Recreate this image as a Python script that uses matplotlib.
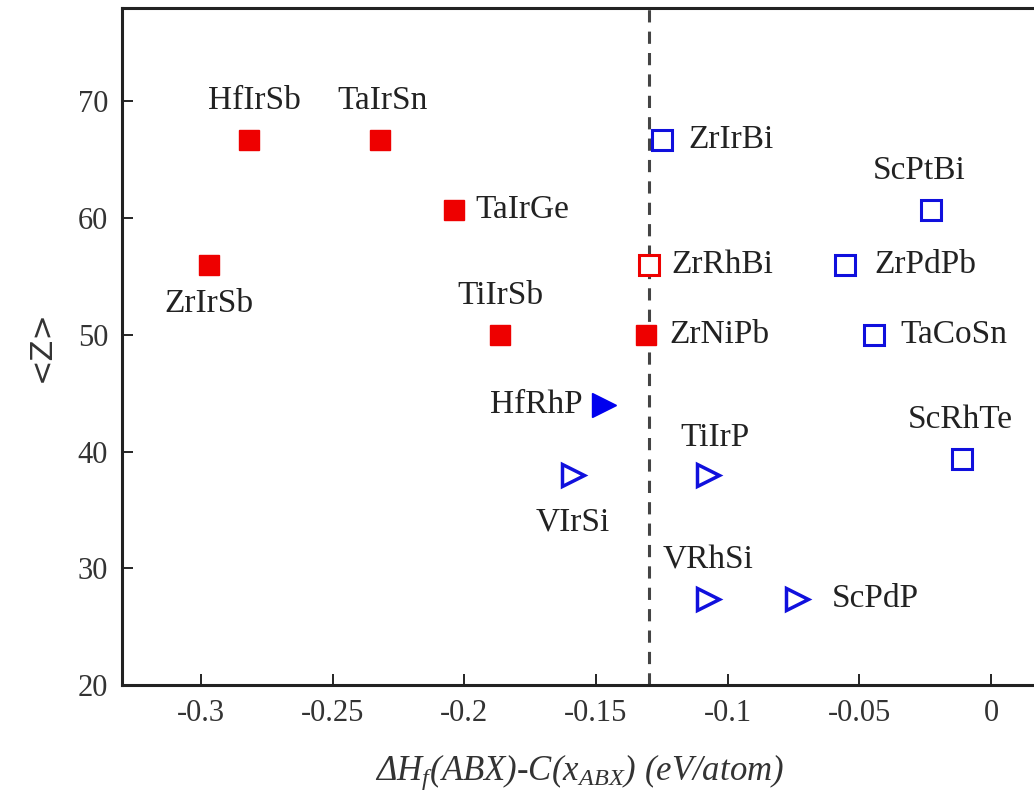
import matplotlib
matplotlib.use("Agg")
import matplotlib.pyplot as plt

plt.rcParams['font.family'] = ['Liberation Serif', 'DejaVu Serif']
plt.rcParams['mathtext.fontset'] = 'custom'
plt.rcParams['mathtext.rm'] = 'Liberation Serif'
plt.rcParams['mathtext.it'] = 'Liberation Serif:italic'

# red filled squares
red_names = ['HfIrSb', 'TaIrSn', 'TaIrGe', 'ZrIrSb', 'TiIrSb', 'ZrNiPb']
red_x = [-0.2817, -0.232, -0.2038, -0.297, -0.1863, -0.131]
red_z = [66.7, 66.7, 60.7, 56.0, 50.0, 50.0]

# red open square
redo_names = ['ZrRhBi']
redo_x = [-0.130]
redo_z = [56.0]

# blue open squares
bsq_names = ['ZrIrBi', 'ScPtBi', 'ZrPdPb', 'TaCoSn', 'ScRhTe']
bsq_x = [-0.1248, -0.0229, -0.0553, -0.0443, -0.011]
bsq_z = [66.7, 60.7, 56.0, 50.0, 39.4]

# blue filled triangle
btf_names = ['HfRhP']
btf_x = [-0.147]
btf_z = [44.0]

# blue open triangles
bto_names = ['VIrSi', 'TiIrP', 'VRhSi', 'ScPdP']
bto_x = [-0.1588, -0.1073, -0.1073, -0.0737]
bto_z = [38.0, 38.0, 27.4, 27.4]

cutoff = -0.13

# label offset from marker (points) and alignment
label_pos = {
    'HfIrSb': ((4, 28), 'center'), 'TaIrSn': ((2, 28), 'center'),
    'TaIrGe': ((15, 0), 'left'), 'ZrIrSb': ((0, -28), 'center'),
    'TiIrSb': ((0, 28), 'center'), 'ZrNiPb': ((17, 0), 'left'),
    'ZrRhBi': ((16, 0), 'left'), 'ZrIrBi': ((19, 0), 'left'),
    'ScPtBi': ((-8, 28), 'center'), 'ZrPdPb': ((21, 0), 'left'),
    'TaCoSn': ((19, 0), 'left'), 'ScRhTe': ((-1, 28), 'center'),
    'HfRhP': ((-15, 0), 'right'), 'VIrSi': ((0, -34), 'center'),
    'TiIrP': ((5, 27), 'center'), 'VRhSi': ((0, 28), 'center'),
    'ScPdP': ((25, 0), 'left'),
}

fig = plt.figure(figsize=(10.34, 8.05), dpi=100)
ax = fig.add_axes([0.118, 0.149, 0.885, 0.841])

ax.axvline(cutoff, color='#444444', lw=2.2, ls=(0, (4, 3)), zorder=1)

ax.plot(red_x, red_z, 's', color='#ee0000', ms=15, mec='#ee0000', ls='none', zorder=3)
ax.plot(redo_x, redo_z, 's', mfc='white', mec='#ee0000', mew=2.2, ms=14, ls='none', zorder=3)
ax.plot(bsq_x, bsq_z, 's', mfc='none', mec='#1010dd', mew=2.2, ms=14, ls='none', zorder=3)
ax.plot(btf_x, btf_z, '>', color='#0000ee', ms=17, ls='none', zorder=3)
ax.plot(bto_x, bto_z, '>', mfc='none', mec='#1010dd', mew=2.5, ms=16, ls='none', zorder=3)

all_names = red_names + redo_names + bsq_names + btf_names + bto_names
all_x = red_x + redo_x + bsq_x + btf_x + bto_x
all_z = red_z + redo_z + bsq_z + btf_z + bto_z

for name, x, z in zip(all_names, all_x, all_z):
    off, ha = label_pos[name]
    ax.annotate(name, (x, z), xytext=off, textcoords='offset points',
                ha=ha, va='center', fontsize=24, color='#222222')

ax.set_xlim(-0.33, 0.0175)
ax.set_ylim(20, 78)
ax.set_xticks([-0.3, -0.25, -0.2, -0.15, -0.1, -0.05, 0])
ax.set_xticklabels(['-0.3', '-0.25', '-0.2', '-0.15', '-0.1', '-0.05', '0'])
ax.set_yticks([20, 30, 40, 50, 60, 70])

ax.tick_params(direction='in', length=8, width=1.2, labelsize=22,
               labelcolor='#333333', pad=10)
for s in ax.spines.values():
    s.set_linewidth(2.2)
    s.set_color('#222222')

ax.set_xlabel('\u0394H$_f$(ABX)-C(x$_{ABX}$) (eV/atom)', fontsize=25,
              style='italic', color='#333333', labelpad=18)
ax.set_ylabel('<Z>', fontsize=22, family='DejaVu Sans', color='#333333', labelpad=16)

fig.savefig('out.png', dpi=100)
